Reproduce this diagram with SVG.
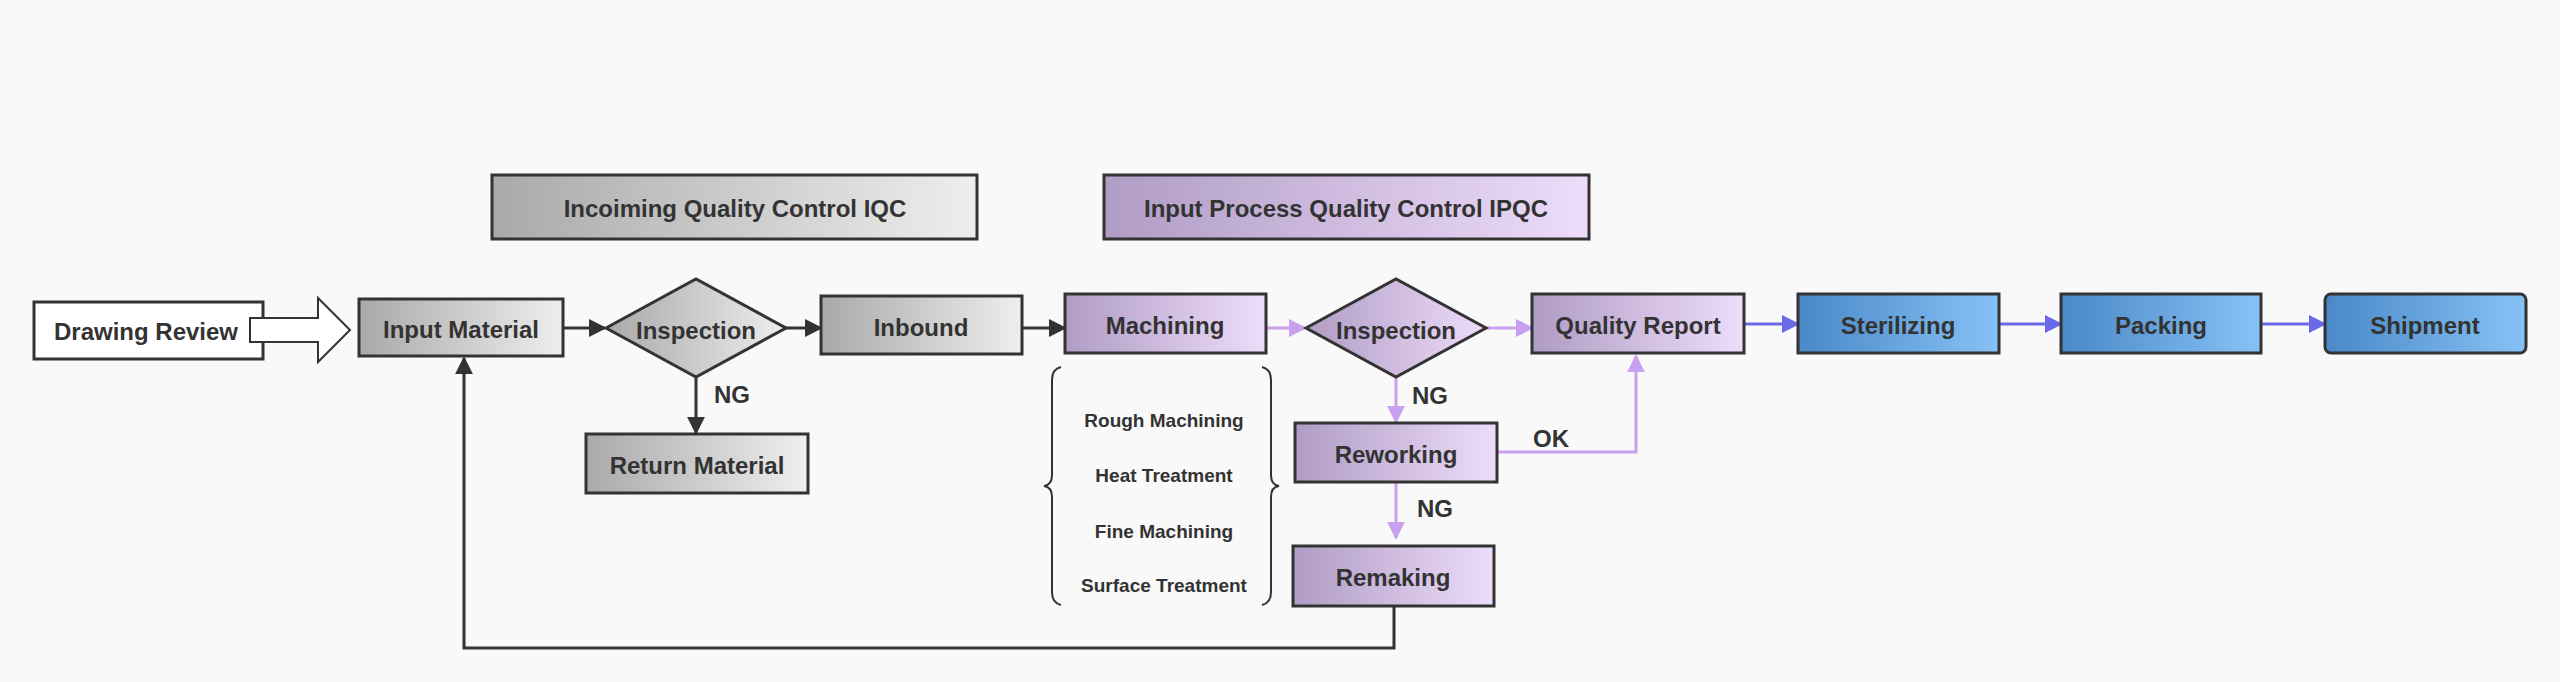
<svg xmlns="http://www.w3.org/2000/svg" width="2560" height="682" viewBox="0 0 2560 682">
<style>
text{font-family:"Liberation Sans",Arial,sans-serif;font-weight:bold;fill:#333;text-anchor:middle;dominant-baseline:central}
.b{font-size:24px}.s{font-size:19px}
.n{stroke:#333;stroke-width:3}
.g{fill:url(#gg)}.p{fill:url(#gp)}.bl{fill:url(#gb)}
.c{fill:none;stroke-width:3}
</style>
<defs>
<linearGradient id="gg" x1="0" y1="0" x2="1" y2="0"><stop offset="0" stop-color="#a9a9a9"/><stop offset="1" stop-color="#eeeeee"/></linearGradient>
<linearGradient id="gp" x1="0" y1="0" x2="1" y2="0"><stop offset="0" stop-color="#b09cc4"/><stop offset="1" stop-color="#eedcfb"/></linearGradient>
<linearGradient id="gb" x1="0" y1="0" x2="1" y2="0"><stop offset="0" stop-color="#4a88c8"/><stop offset="1" stop-color="#86c2f5"/></linearGradient>
<marker id="ak" viewBox="0 0 10 10" refX="9" refY="5" markerWidth="6" markerHeight="6" orient="auto"><path d="M0,0L10,5L0,10z" fill="#333"/></marker>
<marker id="ap" viewBox="0 0 10 10" refX="9" refY="5" markerWidth="6" markerHeight="6" orient="auto"><path d="M0,0L10,5L0,10z" fill="#c9a0f0"/></marker>
<marker id="ab" viewBox="0 0 10 10" refX="9" refY="5" markerWidth="6" markerHeight="6" orient="auto"><path d="M0,0L10,5L0,10z" fill="#6a6ae8"/></marker>
</defs>
<rect width="2560" height="682" fill="#f9f9f9"/>
<g id="connectors">
<path class="c" stroke="#333" d="M563,328H605" marker-end="url(#ak)"/>
<path class="c" stroke="#333" d="M786,328H821" marker-end="url(#ak)"/>
<path class="c" stroke="#333" d="M1022,328H1065" marker-end="url(#ak)"/>
<path class="c" stroke="#333" d="M696,377V433" marker-end="url(#ak)"/>
<path class="c" stroke="#333" d="M1394,606V648H464V358" marker-end="url(#ak)"/>
<path class="c" stroke="#c9a0f0" d="M1266,328H1305" marker-end="url(#ap)"/>
<path class="c" stroke="#c9a0f0" d="M1486,328H1532" marker-end="url(#ap)"/>
<path class="c" stroke="#c9a0f0" d="M1396,377V422" marker-end="url(#ap)"/>
<path class="c" stroke="#c9a0f0" d="M1396,482V538" marker-end="url(#ap)"/>
<path class="c" stroke="#c9a0f0" d="M1497,452H1636V356" marker-end="url(#ap)"/>
<path class="c" stroke="#6a6ae8" d="M1744,324H1798" marker-end="url(#ab)"/>
<path class="c" stroke="#6a6ae8" d="M1999,324H2061" marker-end="url(#ab)"/>
<path class="c" stroke="#6a6ae8" d="M2260,324H2325" marker-end="url(#ab)"/>
<text class="b" x="732" y="394">NG</text>
<text class="b" x="1430" y="395">NG</text>
<text class="b" x="1435" y="508">NG</text>
<text class="b" x="1551" y="438">OK</text>
</g>
<g id="iqc"><rect class="n g" x="492" y="175" width="485" height="64"/><text class="b" x="735" y="208">Incoiming Quality Control     IQC</text></g>
<g id="ipqc"><rect class="n p" x="1104" y="175" width="485" height="64"/><text class="b" x="1346" y="208">Input Process Quality Control     IPQC</text></g>
<g id="drawing-review"><rect x="34" y="302" width="229" height="57" fill="#fff" stroke="#333" stroke-width="3"/><text class="b" x="146" y="331">Drawing Review</text>
<path d="M250,318H318V298L350,330L318,362V342H250z" fill="#fff" stroke="#333" stroke-width="2"/></g>
<g id="input-material"><rect class="n g" x="359" y="299" width="204" height="57"/><text class="b" x="461" y="329">Input Material</text></g>
<g id="inspection1"><path class="n g" d="M606,328L696,279L786,328L696,377z"/><text class="b" x="696" y="330">Inspection</text></g>
<g id="inbound"><rect class="n g" x="821" y="296" width="201" height="58"/><text class="b" x="921" y="327">Inbound</text></g>
<g id="return-material"><rect class="n g" x="586" y="434" width="222" height="59"/><text class="b" x="697" y="465">Return Material</text></g>
<g id="machining"><rect class="n p" x="1065" y="294" width="201" height="59"/><text class="b" x="1165" y="325">Machining</text></g>
<g id="substeps">
<path d="M1061,367Q1052,369 1052,380V475Q1052,485 1044,486Q1052,487 1052,497V592Q1052,603 1061,605" fill="none" stroke="#333" stroke-width="2"/>
<path d="M1262,367Q1271,369 1271,380V475Q1271,485 1279,486Q1271,487 1271,497V592Q1271,603 1262,605" fill="none" stroke="#333" stroke-width="2"/>
<text class="s" x="1164" y="420">Rough Machining</text>
<text class="s" x="1164" y="475">Heat Treatment</text>
<text class="s" x="1164" y="531">Fine Machining</text>
<text class="s" x="1164" y="585">Surface Treatment</text>
</g>
<g id="inspection2"><path class="n p" d="M1306,328L1396,279L1486,328L1396,377z"/><text class="b" x="1396" y="330">Inspection</text></g>
<g id="quality-report"><rect class="n p" x="1532" y="294" width="212" height="59"/><text class="b" x="1638" y="325">Quality Report</text></g>
<g id="reworking"><rect class="n p" x="1295" y="423" width="202" height="59"/><text class="b" x="1396" y="454">Reworking</text></g>
<g id="remaking"><rect class="n p" x="1293" y="546" width="201" height="60"/><text class="b" x="1393" y="577">Remaking</text></g>
<g id="sterilizing"><rect class="n bl" x="1798" y="294" width="201" height="59"/><text class="b" x="1898" y="325">Sterilizing</text></g>
<g id="packing"><rect class="n bl" x="2061" y="294" width="200" height="59"/><text class="b" x="2161" y="325">Packing</text></g>
<g id="shipment"><rect class="n bl" x="2325" y="294" width="201" height="59" rx="6"/><text class="b" x="2425" y="325">Shipment</text></g>
</svg>
